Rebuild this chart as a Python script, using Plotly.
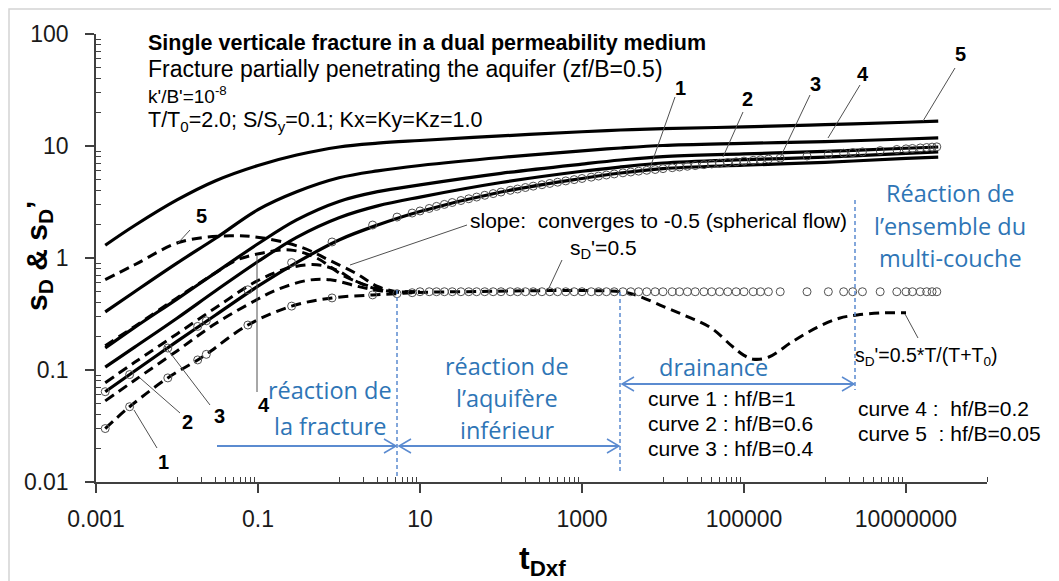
import plotly.graph_objects as go

# ---- data (t_Dxf, s_D and s_D') ----
t_grid = [0.0013, 0.003, 0.01, 0.03, 0.1, 0.3, 1, 3, 10, 100, 1000, 3000,
          1e4, 1e5, 1e6, 1e7, 2.5e7]
s_d1 = [0.064, 0.098, 0.18, 0.31, 0.56, 0.91, 1.45, 1.97, 2.6, 3.88, 5.13, 5.74,
        6.28, 6.74, 7.15, 7.75, 7.97]
s_d2 = [0.106, 0.16, 0.29, 0.51, 0.93, 1.53, 2.29, 2.92, 3.5, 4.72, 5.95, 6.5,
        7.05, 7.55, 7.95, 8.6, 8.84]
s_d3 = [0.157, 0.24, 0.43, 0.74, 1.34, 2.19, 3.2, 3.91, 4.5, 5.7, 6.9, 7.5,
        8.05, 8.5, 8.95, 9.55, 9.8]
s_d4 = [0.33, 0.5, 0.9, 1.5, 2.7, 3.9, 5.2, 6.0, 6.7, 7.9, 9.05, 9.6,
        10.1, 10.55, 10.95, 11.55, 11.8]
s_d5 = [1.3, 1.95, 3.3, 4.9, 6.7, 8.3, 9.8, 10.6, 11.2, 12.3, 13.4, 13.9,
        14.3, 14.8, 15.5, 16.3, 16.7]

# derivative curves s_D'
t_der1 = [0.0013, 0.0026, 0.0077, 0.018, 0.023, 0.075, 0.26, 0.82, 2.6, 5.2, 8, 30,
          3000, 4500, 1e4, 2e4, 4e4, 7e4, 1e5, 1.3e5, 2e5, 4e5, 8e5, 1.5e6, 2.5e6, 5e6, 1e7]
sp_d1 = [0.030, 0.047, 0.085, 0.123, 0.138, 0.252, 0.372, 0.44, 0.468, 0.48, 0.49, 0.5,
         0.5, 0.47, 0.37, 0.30, 0.235, 0.165, 0.135, 0.125, 0.13, 0.18, 0.24, 0.29, 0.31, 0.323, 0.325]
t_der2 = [0.0013, 0.003, 0.01, 0.03, 0.1, 0.16, 0.4, 0.78, 1.67, 3.2, 10]
sp_d2 = [0.053, 0.081, 0.148, 0.26, 0.43, 0.51, 0.63, 0.64, 0.56, 0.51, 0.5]
t_der3 = [0.0013, 0.003, 0.01, 0.03, 0.1, 0.25, 0.53, 0.94, 1.49, 2.63, 5, 10]
sp_d3 = [0.077, 0.117, 0.21, 0.36, 0.63, 0.82, 0.87, 0.78, 0.64, 0.54, 0.5, 0.5]
t_der4 = [0.0013, 0.003, 0.01, 0.03, 0.055, 0.115, 0.25, 0.53, 1.12, 2.2, 4.3, 10]
sp_d4 = [0.165, 0.245, 0.44, 0.74, 0.96, 1.11, 1.18, 1.0, 0.70, 0.57, 0.5, 0.5]
t_der5 = [0.0013, 0.003, 0.011, 0.045, 0.115, 0.36, 0.77, 1.67, 2.94, 5.2, 10]
sp_d5 = [0.64, 0.87, 1.39, 1.58, 1.51, 1.23, 0.95, 0.72, 0.56, 0.5, 0.5]

# reference solution (circles)
t_circ_early = [0.0013, 0.0026, 0.0077, 0.018, 0.023, 0.075, 0.26, 0.82, 2.6, 5.2, 8]
s_circ_early = [0.064, 0.091, 0.157, 0.245, 0.275, 0.52, 0.91, 1.39, 1.97, 2.32, 2.52]
sp_circ_early = [0.030, 0.047, 0.085, 0.123, 0.138, 0.252, 0.372, 0.44, 0.468, 0.48, 0.49]
t_circ_late = [10, 13, 16, 20, 25, 32, 40, 50, 63, 80,
               100, 130, 160, 200, 250, 320, 400, 500, 630, 800,
               1000, 1300, 1600, 2000, 2500, 3200, 4000, 5000, 6300, 8000,
               1e4, 1.3e4, 1.6e4, 2e4, 2.5e4, 3.2e4, 4e4, 5e4, 6.3e4, 8e4,
               1e5, 1.3e5, 1.6e5, 2e5, 2.8e5,
               6e5, 1.1e6, 1.7e6, 2.2e6, 2.9e6, 4.8e6, 7.7e6,
               1e7, 1.2e7, 1.5e7, 1.8e7, 2.1e7, 2.4e7]
s_circ_late = [2.63, 2.77, 2.89, 3.01, 3.13, 3.26, 3.38, 3.50, 3.63, 3.76,
               3.88, 4.02, 4.13, 4.26, 4.38, 4.51, 4.63, 4.75, 4.88, 5.01,
               5.13, 5.27, 5.39, 5.51, 5.63, 5.76, 5.86, 5.96, 6.07, 6.17,
               6.28, 6.40, 6.49, 6.59, 6.69, 6.81, 6.91, 7.01, 7.12, 7.22,
               7.33, 7.45, 7.54, 7.64, 7.80,
               8.14, 8.42, 8.62, 8.74, 8.86, 9.09, 9.31,
               9.43, 9.51, 9.61, 9.70, 9.77, 9.83]
sp_circ_late = [0.5] * len(t_circ_late)

x_tickvals = [0.001, 0.1, 10, 1000, 100000, 10000000]
x_ticktext = ['0.001', '0.1', '10', '1000', '100000', '10000000']
y_tickvals = [0.01, 0.1, 1, 10, 100]
y_ticktext = ['0.01', '0.1', '1', '10', '100']

ARIAL = 'Liberation Sans, Arial, sans-serif'
CALIBRI = 'Open Sans, Lato, sans-serif'
BLUE_TXT = '#2E75B6'
BLUE_LN = '#5B8BD0'
GREY = '#505050'

# the page body adds an 8px offset; plot area wanted at x 96..987, y 34..482
OFF = 8
W, H = 1059 - OFF, 581 - OFF
L, R, T, B = 96, 987, 34, 482
def px(x):
    return (x - L) / (R - L)
def py(y):
    return (B - y) / (B - T)


fig = go.Figure()

solid = dict(color='black', width=3.2)
dashed = dict(color='black', width=3, dash='10px,6px')

for s in [s_d1, s_d2, s_d3, s_d4, s_d5]:
    fig.add_trace(go.Scatter(x=t_grid, y=s, mode='lines', line=solid,
                             line_shape='spline', hoverinfo='skip'))

for t, sp in [(t_der1, sp_d1), (t_der2, sp_d2), (t_der3, sp_d3),
              (t_der4, sp_d4), (t_der5, sp_d5)]:
    fig.add_trace(go.Scatter(x=t, y=sp, mode='lines', line=dashed,
                             line_shape='spline', hoverinfo='skip'))

circ = dict(symbol='circle-open', size=8, color=GREY, line=dict(width=1))
fig.add_trace(go.Scatter(x=t_circ_early + t_circ_late, y=s_circ_early + s_circ_late,
                         mode='markers', marker=circ, hoverinfo='skip'))
fig.add_trace(go.Scatter(x=t_circ_early + t_circ_late, y=sp_circ_early + sp_circ_late,
                         mode='markers', marker=circ, hoverinfo='skip'))

x_minor = [m * 10.0 ** k for k in (-2, 0, 2, 4, 6) for m in range(1, 10)] + [1e8]
y_minor = [m * 10.0 ** k for k in (-2, -1, 0, 1) for m in range(2, 10)]

axis_font = dict(family=ARIAL, size=23, color='#1a1a1a')
fig.update_layout(
    width=W, height=H,
    margin=dict(l=L - OFF, r=W - (R - OFF), t=T - OFF, b=H - (B - OFF)),
    paper_bgcolor='white', plot_bgcolor='white',
    showlegend=False,
    xaxis=dict(type='log', range=[-3, 8], showgrid=False, zeroline=False,
               showline=True, linecolor='#404040', linewidth=1.5,
               tickvals=x_tickvals, ticktext=x_ticktext,
               ticks='outside', ticklen=9, tickwidth=1.5, tickcolor='#404040',
               ticklabelstandoff=7, tickfont=axis_font,
               minor=dict(tickvals=x_minor, ticks='inside', ticklen=5,
                          tickwidth=1, tickcolor='#404040')),
    yaxis=dict(type='log', range=[-2, 2], showgrid=False, zeroline=False,
               showline=True, linecolor='#404040', linewidth=1.5,
               tickvals=y_tickvals, ticktext=y_ticktext,
               ticks='outside', ticklen=9, tickwidth=1.5, tickcolor='#404040',
               ticklabelstandoff=12, tickfont=axis_font,
               minor=dict(tickvals=y_minor, ticks='inside', ticklen=5,
                          tickwidth=1, tickcolor='#404040')),
    # overlay axes only carry the inner half of the major ticks
    xaxis2=dict(type='log', range=[-3, 8], overlaying='x', anchor='y', side='bottom',
                showgrid=False, zeroline=False, showline=False, showticklabels=False,
                tickvals=x_tickvals, ticks='inside', ticklen=11, tickwidth=1.5,
                tickcolor='#404040'),
    yaxis2=dict(type='log', range=[-2, 2], overlaying='y', anchor='x', side='left',
                showgrid=False, zeroline=False, showline=False, showticklabels=False,
                tickvals=y_tickvals, ticks='inside', ticklen=11, tickwidth=1.5,
                tickcolor='#404040'),
)

ann = []
def text(x, y, s, size=20, color='black', family=ARIAL, xanchor='left', angle=0):
    ann.append(dict(x=px(x), y=py(y), xref='paper', yref='paper', text=s,
                    showarrow=False, xanchor=xanchor, yanchor='middle',
                    textangle=angle, font=dict(family=family, size=size, color=color)))

# header block
text(146, 43, '<b>Single verticale fracture in a dual permeability medium</b>', 21.5)
text(146, 69, 'Fracture partially penetrating the aquifer (zf/B=0.5)', 23)
text(146, 95, "k'/B'=10<sup>-8</sup>", 19)
text(146, 121, 'T/T<sub>0</sub>=2.0; S/S<sub>y</sub>=0.1; Kx=Ky=Kz=1.0', 21.5)

# curve numbers
for x, y, s in [(163, 462, '1'), (187, 422, '2'), (219, 416, '3'), (264, 405, '4'),
                (201, 216, '5'), (680, 88, '1'), (747, 99, '2'), (815, 84, '3'),
                (863, 74, '4'), (960, 54, '5')]:
    text(x, y, '<b>%s</b>' % s, 20, xanchor='center')

text(468, 220, 'slope:  converges to -0.5 (spherical flow)', 21)
text(568, 249, "s<sub>D</sub>'=0.5", 21)
text(853, 356, "s<sub>D</sub>'=0.5*T/(T+T<sub>0</sub>)", 19.5)
text(646, 398, 'curve 1 : hf/B=1', 21)
text(646, 423, 'curve 2 : hf/B=0.6', 21)
text(646, 448, 'curve 3 : hf/B=0.4', 21)
text(856, 408, 'curve 4 :  hf/B=0.2', 21)
text(856, 433, 'curve 5  : hf/B=0.05', 21)

# blue region labels
for x, y, s in [(330, 390, 'réaction de'), (330, 426, 'la fracture'),
                (507, 366, 'réaction de'), (507, 398, 'l’aquifère'), (507, 430, 'inférieur'),
                (713, 367, 'drainance'),
                (950, 193, 'Réaction de'), (950, 226, 'l’ensemble du'), (950, 258, 'multi-couche')]:
    text(x, y, s, 23.5, BLUE_TXT, CALIBRI, 'center')

# axis titles
text(542, 560, '<b>t<sub>Dxf</sub></b>', 32, xanchor='center')
text(38, 256, "<b>s<sub>D</sub> & s<sub>D</sub>’</b>", 30, xanchor='center', angle=-90)

shapes = []
def seg(x0, y0, x1, y1, color=GREY, width=1, dash=None):
    shapes.append(dict(type='line', xref='paper', yref='paper',
                       x0=px(x0), y0=py(y0), x1=px(x1), y1=py(y1),
                       line=dict(color=color, width=width, dash=dash)))

def vhead(x, y, direction):
    d = 12 * direction
    shapes.append(dict(type='path', xref='paper', yref='paper',
                       path='M %f,%f L %f,%f L %f,%f' % (px(x - d), py(y - 7), px(x), py(y),
                                                        px(x - d), py(y + 7)),
                       line=dict(color=BLUE_LN, width=1.5)))

# leader lines
for x0, y0, x1, y1 in [(157, 448, 134, 410), (180, 413, 140, 378), (210, 405, 165, 346),
                       (257, 392, 257, 256), (190, 230, 178, 243),
                       (675, 97, 650, 168), (743, 112, 723, 157), (810, 95, 780, 158),
                       (860, 85, 828, 138), (955, 68, 923, 121),
                       (467, 225, 350, 265), (562, 260, 548, 290), (918, 338, 905, 314)]:
    seg(x0, y0, x1, y1)

# blue separators and arrows
seg(397, 290, 397, 478, BLUE_LN, 1.5, '4px,3px')
seg(620, 292, 620, 474, BLUE_LN, 1.5, '4px,3px')
seg(855, 200, 855, 390, BLUE_LN, 1.5, '4px,3px')
seg(217, 446, 396, 446, BLUE_LN, 1.8)
vhead(396, 446, 1)
seg(399, 446, 619, 446, BLUE_LN, 1.8)
vhead(399, 446, -1)
vhead(619, 446, 1)
seg(622, 384, 854, 384, BLUE_LN, 1.8)
vhead(622, 384, -1)
vhead(854, 384, 1)

# light frame of the chart area (top and left edges are what shows)
shapes.append(dict(type='rect', xref='paper', yref='paper', x0=px(9), y0=py(640),
                   x1=px(1120), y1=py(9), line=dict(color='#d4d4d4', width=1.5)))

fig.update_layout(annotations=ann, shapes=shapes)
fig.write_html('out.html')
